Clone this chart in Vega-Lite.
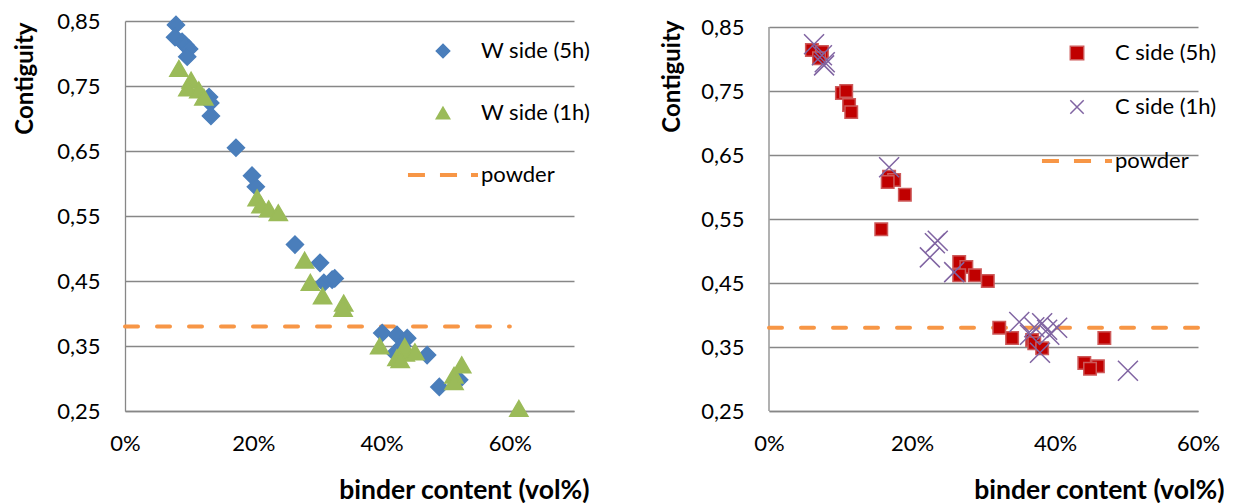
{
  "$schema": "https://vega.github.io/schema/vega-lite/v6.json",
  "background": "white",
  "padding": {"left": 12, "top": 10, "right": 0, "bottom": 0},
  "bounds": "flush",
  "spacing": 195,
  "config": {
    "view": {"stroke": null},
    "font": "Lato",
    "axis": {
      "labelFont": "Lato", "labelFontSize": 22, "labelColor": "#000000",
      "titleFont": "Lato", "titleFontWeight": "bold", "titleColor": "#000000",
      "gridColor": "#878787", "gridWidth": 1.3, "gridOpacity": 1,
      "domainColor": "#878787", "domainWidth": 1.3,
      "ticks": false
    },
    "legend": {
      "labelFont": "Lato", "labelFontSize": 22, "labelColor": "#000000",
      "symbolStrokeWidth": 1.5, "symbolOpacity": 1
    }
  },
  "resolve": {"scale": {"fill": "independent", "stroke": "independent", "shape": "independent"}},
  "hconcat": [
    {
      "width": 449,
      "height": 390,
      "data": {"values": [
        {"series": "W side (5h)", "x": 0.0795, "y": 0.844},
        {"series": "W side (5h)", "x": 0.078, "y": 0.825},
        {"series": "W side (5h)", "x": 0.089, "y": 0.818},
        {"series": "W side (5h)", "x": 0.094, "y": 0.813},
        {"series": "W side (5h)", "x": 0.1, "y": 0.807},
        {"series": "W side (5h)", "x": 0.097, "y": 0.795},
        {"series": "W side (5h)", "x": 0.131, "y": 0.733},
        {"series": "W side (5h)", "x": 0.133, "y": 0.724},
        {"series": "W side (5h)", "x": 0.134, "y": 0.704},
        {"series": "W side (5h)", "x": 0.173, "y": 0.655},
        {"series": "W side (5h)", "x": 0.198, "y": 0.612},
        {"series": "W side (5h)", "x": 0.204, "y": 0.595},
        {"series": "W side (5h)", "x": 0.265, "y": 0.506},
        {"series": "W side (5h)", "x": 0.304, "y": 0.478},
        {"series": "W side (5h)", "x": 0.31, "y": 0.447},
        {"series": "W side (5h)", "x": 0.323, "y": 0.452},
        {"series": "W side (5h)", "x": 0.327, "y": 0.454},
        {"series": "W side (5h)", "x": 0.401, "y": 0.37},
        {"series": "W side (5h)", "x": 0.424, "y": 0.367},
        {"series": "W side (5h)", "x": 0.44, "y": 0.362},
        {"series": "W side (5h)", "x": 0.432, "y": 0.35},
        {"series": "W side (5h)", "x": 0.421, "y": 0.339},
        {"series": "W side (5h)", "x": 0.471, "y": 0.336},
        {"series": "W side (5h)", "x": 0.49, "y": 0.287},
        {"series": "W side (5h)", "x": 0.521, "y": 0.298},
        {"series": "W side (1h)", "x": 0.084, "y": 0.777},
        {"series": "W side (1h)", "x": 0.103, "y": 0.759},
        {"series": "W side (1h)", "x": 0.098, "y": 0.747},
        {"series": "W side (1h)", "x": 0.115, "y": 0.744},
        {"series": "W side (1h)", "x": 0.123, "y": 0.733},
        {"series": "W side (1h)", "x": 0.206, "y": 0.578},
        {"series": "W side (1h)", "x": 0.212, "y": 0.567},
        {"series": "W side (1h)", "x": 0.224, "y": 0.561},
        {"series": "W side (1h)", "x": 0.239, "y": 0.555},
        {"series": "W side (1h)", "x": 0.28, "y": 0.482},
        {"series": "W side (1h)", "x": 0.289, "y": 0.448},
        {"series": "W side (1h)", "x": 0.308, "y": 0.427},
        {"series": "W side (1h)", "x": 0.341, "y": 0.416},
        {"series": "W side (1h)", "x": 0.34, "y": 0.408},
        {"series": "W side (1h)", "x": 0.397, "y": 0.35},
        {"series": "W side (1h)", "x": 0.424, "y": 0.332},
        {"series": "W side (1h)", "x": 0.437, "y": 0.339},
        {"series": "W side (1h)", "x": 0.436, "y": 0.349},
        {"series": "W side (1h)", "x": 0.452, "y": 0.341},
        {"series": "W side (1h)", "x": 0.429, "y": 0.329},
        {"series": "W side (1h)", "x": 0.513, "y": 0.305},
        {"series": "W side (1h)", "x": 0.513, "y": 0.295},
        {"series": "W side (1h)", "x": 0.525, "y": 0.321},
        {"series": "W side (1h)", "x": 0.614, "y": 0.254}
      ]},
      "encoding": {
        "x": {"field": "x", "type": "quantitative", "scale": {"domain": [0, 0.7], "nice": false, "zero": false},
          "axis": {"values": [0, 0.2, 0.4, 0.6], "format": ".0%", "grid": false, "labelPadding": 22, "labelFlush": false,
            "title": "binder content (vol%)", "titleFontSize": 26.5, "titleX": 464, "titleY": 79, "titleAlign": "right", "titleBaseline": "middle", "titleAnchor": null}},
        "y": {"field": "y", "type": "quantitative", "scale": {"domain": [0.25, 0.85], "nice": false, "zero": false},
          "axis": {"values": [0.25, 0.35, 0.45, 0.55, 0.65, 0.75, 0.85], "labelExpr": "replace(format(datum.value, '.2f'), '.', ',')",
            "labelPadding": 25, "labelFlush": false, "grid": true, "title": "Contiguity", "titleFontSize": 24, "titleAngle": -90, "titleX": -100, "titleY": 1,
            "titleAlign": "right", "titleBaseline": "middle", "titleAnchor": null}}
      },
      "layer": [
        {
          "data": {"values": [{"x": 0, "x2": 0.6, "y": 0.38}]},
          "mark": {"type": "rule", "stroke": "#f79646", "strokeWidth": 4, "strokeDash": [13, 19], "strokeCap": "round"},
          "encoding": {"x2": {"field": "x2"}}
        },
        {
          "transform": [{"filter": "datum.series == 'W side (5h)'"}],
          "mark": {"type": "point", "filled": true, "opacity": 1, "strokeWidth": 1.5, "size": 290},
          "encoding": {
            "fill": {"field": "series", "type": "nominal",
              "scale": {"domain": ["W side (5h)", "W side (1h)", "powder"], "range": ["#4a7ebb", "#9bbb59", "#f79646"]},
              "legend": {"orient": "none", "legendX": 307, "legendY": 19, "title": null, "rowPadding": 40, "labelOffset": 27, "symbolSize": 180}},
            "stroke": {"field": "series", "type": "nominal",
              "scale": {"domain": ["W side (5h)", "W side (1h)", "powder"], "range": ["#4a7ebb", "#9bbb59", "#f79646"]},
              "legend": {"orient": "none", "legendX": 307, "legendY": 19, "title": null, "rowPadding": 40, "labelOffset": 27, "symbolSize": 180}},
            "shape": {"field": "series", "type": "nominal",
              "scale": {"domain": ["W side (5h)", "W side (1h)", "powder"], "range": ["diamond", "triangle-up", "M-5.11,-0.19H-2.8V0.19H-5.11Z M-0.34,-0.19H1.98V0.19H-0.34Z M4.29,-0.19H5.11V0.19H4.29Z"]},
              "legend": {"orient": "none", "legendX": 307, "legendY": 19, "title": null, "rowPadding": 40, "labelOffset": 27, "symbolSize": 180}}
          }
        },
        {
          "transform": [{"filter": "datum.series == 'W side (1h)'"}],
          "mark": {"type": "point", "filled": true, "opacity": 1, "strokeWidth": 1.5, "size": 330},
          "encoding": {
            "fill": {"field": "series", "type": "nominal",
              "scale": {"domain": ["W side (5h)", "W side (1h)", "powder"], "range": ["#4a7ebb", "#9bbb59", "#f79646"]},
              "legend": {"orient": "none", "legendX": 307, "legendY": 19, "title": null, "rowPadding": 40, "labelOffset": 27, "symbolSize": 180}},
            "stroke": {"field": "series", "type": "nominal",
              "scale": {"domain": ["W side (5h)", "W side (1h)", "powder"], "range": ["#4a7ebb", "#9bbb59", "#f79646"]},
              "legend": {"orient": "none", "legendX": 307, "legendY": 19, "title": null, "rowPadding": 40, "labelOffset": 27, "symbolSize": 180}},
            "shape": {"field": "series", "type": "nominal",
              "scale": {"domain": ["W side (5h)", "W side (1h)", "powder"], "range": ["diamond", "triangle-up", "M-5.11,-0.19H-2.8V0.19H-5.11Z M-0.34,-0.19H1.98V0.19H-0.34Z M4.29,-0.19H5.11V0.19H4.29Z"]},
              "legend": {"orient": "none", "legendX": 307, "legendY": 19, "title": null, "rowPadding": 40, "labelOffset": 27, "symbolSize": 180}}
          }
        }
      ]
    },
    {
      "width": 429,
      "height": 390,
      "data": {"values": [
        {"series": "C side (5h)", "x": 0.06, "y": 0.814},
        {"series": "C side (5h)", "x": 0.074, "y": 0.811},
        {"series": "C side (5h)", "x": 0.07, "y": 0.801},
        {"series": "C side (5h)", "x": 0.102, "y": 0.747},
        {"series": "C side (5h)", "x": 0.108, "y": 0.75},
        {"series": "C side (5h)", "x": 0.112, "y": 0.728},
        {"series": "C side (5h)", "x": 0.115, "y": 0.717},
        {"series": "C side (5h)", "x": 0.168, "y": 0.616},
        {"series": "C side (5h)", "x": 0.175, "y": 0.611},
        {"series": "C side (5h)", "x": 0.166, "y": 0.608},
        {"series": "C side (5h)", "x": 0.19, "y": 0.588},
        {"series": "C side (5h)", "x": 0.157, "y": 0.534},
        {"series": "C side (5h)", "x": 0.266, "y": 0.483},
        {"series": "C side (5h)", "x": 0.276, "y": 0.475},
        {"series": "C side (5h)", "x": 0.266, "y": 0.462},
        {"series": "C side (5h)", "x": 0.288, "y": 0.462},
        {"series": "C side (5h)", "x": 0.306, "y": 0.453},
        {"series": "C side (5h)", "x": 0.322, "y": 0.38},
        {"series": "C side (5h)", "x": 0.34, "y": 0.364},
        {"series": "C side (5h)", "x": 0.368, "y": 0.361},
        {"series": "C side (5h)", "x": 0.371, "y": 0.356},
        {"series": "C side (5h)", "x": 0.382, "y": 0.348},
        {"series": "C side (5h)", "x": 0.469, "y": 0.364},
        {"series": "C side (5h)", "x": 0.441, "y": 0.325},
        {"series": "C side (5h)", "x": 0.46, "y": 0.32},
        {"series": "C side (5h)", "x": 0.449, "y": 0.316},
        {"series": "C side (1h)", "x": 0.063, "y": 0.823},
        {"series": "C side (1h)", "x": 0.074, "y": 0.806},
        {"series": "C side (1h)", "x": 0.078, "y": 0.795},
        {"series": "C side (1h)", "x": 0.077, "y": 0.79},
        {"series": "C side (1h)", "x": 0.168, "y": 0.631},
        {"series": "C side (1h)", "x": 0.236, "y": 0.516},
        {"series": "C side (1h)", "x": 0.232, "y": 0.512},
        {"series": "C side (1h)", "x": 0.225, "y": 0.49},
        {"series": "C side (1h)", "x": 0.259, "y": 0.467},
        {"series": "C side (1h)", "x": 0.35, "y": 0.389},
        {"series": "C side (1h)", "x": 0.371, "y": 0.381},
        {"series": "C side (1h)", "x": 0.382, "y": 0.387},
        {"series": "C side (1h)", "x": 0.389, "y": 0.377},
        {"series": "C side (1h)", "x": 0.403, "y": 0.38},
        {"series": "C side (1h)", "x": 0.365, "y": 0.369},
        {"series": "C side (1h)", "x": 0.392, "y": 0.369},
        {"series": "C side (1h)", "x": 0.379, "y": 0.341},
        {"series": "C side (1h)", "x": 0.502, "y": 0.313}
      ]},
      "encoding": {
        "x": {"field": "x", "type": "quantitative", "scale": {"domain": [0, 0.6], "nice": false, "zero": false},
          "axis": {"values": [0, 0.2, 0.4, 0.6], "format": ".0%", "grid": false, "labelPadding": 22, "labelFlush": false,
            "title": "binder content (vol%)", "titleFontSize": 26.5, "titleX": 455, "titleY": 79, "titleAlign": "right", "titleBaseline": "middle", "titleAnchor": null}},
        "y": {"field": "y", "type": "quantitative", "scale": {"domain": [0.25, 0.859375], "nice": false, "zero": false},
          "axis": {"values": [0.25, 0.35, 0.45, 0.55, 0.65, 0.75, 0.85], "labelExpr": "replace(format(datum.value, '.2f'), '.', ',')",
            "labelPadding": 25, "labelFlush": false, "grid": true, "domain": false, "title": "Contiguity", "titleFontSize": 24, "titleAngle": -90, "titleX": -97, "titleY": -1,
            "titleAlign": "right", "titleBaseline": "middle", "titleAnchor": null}}
      },
      "layer": [
        {
          "data": {"values": [{"x": 0, "y": 0.25, "y2": 0.85}]},
          "mark": {"type": "rule", "stroke": "#878787", "strokeWidth": 1.3},
          "encoding": {"y2": {"field": "y2"}}
        },
        {
          "data": {"values": [{"x": 0, "x2": 0.6, "y": 0.38}]},
          "mark": {"type": "rule", "stroke": "#f79646", "strokeWidth": 4, "strokeDash": [13, 19], "strokeCap": "round"},
          "encoding": {"x2": {"field": "x2"}}
        },
        {
          "transform": [{"filter": "datum.series == 'C side (5h)'"}],
          "mark": {"type": "point", "filled": true, "opacity": 1, "strokeWidth": 1.5, "size": 156},
          "encoding": {
            "fill": {"field": "series", "type": "nominal",
              "scale": {"domain": ["C side (5h)", "C side (1h)", "powder"], "range": ["#c00000", "#8064a2", "#f79646"]},
              "legend": {"orient": "none", "legendX": 297, "legendY": 21, "title": null, "rowPadding": 32, "labelOffset": 27, "symbolSize": 180}},
            "stroke": {"field": "series", "type": "nominal",
              "scale": {"domain": ["C side (5h)", "C side (1h)", "powder"], "range": ["#cd5a5a", "#8064a2", "#f79646"]},
              "legend": {"orient": "none", "legendX": 297, "legendY": 21, "title": null, "rowPadding": 32, "labelOffset": 27, "symbolSize": 180}},
            "shape": {"field": "series", "type": "nominal",
              "scale": {"domain": ["C side (5h)", "C side (1h)", "powder"], "range": ["square", "M-1,-1L1,1M-1,1L1,-1", "M-5.11,-0.19H-2.8V0.19H-5.11Z M-0.34,-0.19H1.98V0.19H-0.34Z M4.29,-0.19H5.11V0.19H4.29Z"]},
              "legend": {"orient": "none", "legendX": 297, "legendY": 21, "title": null, "rowPadding": 32, "labelOffset": 27, "symbolSize": 180}}
          }
        },
        {
          "transform": [{"filter": "datum.series == 'C side (1h)'"}],
          "mark": {"type": "point", "filled": true, "opacity": 1, "strokeWidth": 1.5, "size": 400},
          "encoding": {
            "fill": {"field": "series", "type": "nominal",
              "scale": {"domain": ["C side (5h)", "C side (1h)", "powder"], "range": ["#c00000", "#8064a2", "#f79646"]},
              "legend": {"orient": "none", "legendX": 297, "legendY": 21, "title": null, "rowPadding": 32, "labelOffset": 27, "symbolSize": 180}},
            "stroke": {"field": "series", "type": "nominal",
              "scale": {"domain": ["C side (5h)", "C side (1h)", "powder"], "range": ["#cd5a5a", "#8064a2", "#f79646"]},
              "legend": {"orient": "none", "legendX": 297, "legendY": 21, "title": null, "rowPadding": 32, "labelOffset": 27, "symbolSize": 180}},
            "shape": {"field": "series", "type": "nominal",
              "scale": {"domain": ["C side (5h)", "C side (1h)", "powder"], "range": ["square", "M-1,-1L1,1M-1,1L1,-1", "M-5.11,-0.19H-2.8V0.19H-5.11Z M-0.34,-0.19H1.98V0.19H-0.34Z M4.29,-0.19H5.11V0.19H4.29Z"]},
              "legend": {"orient": "none", "legendX": 297, "legendY": 21, "title": null, "rowPadding": 32, "labelOffset": 27, "symbolSize": 180}}
          }
        }
      ]
    }
  ]
}
